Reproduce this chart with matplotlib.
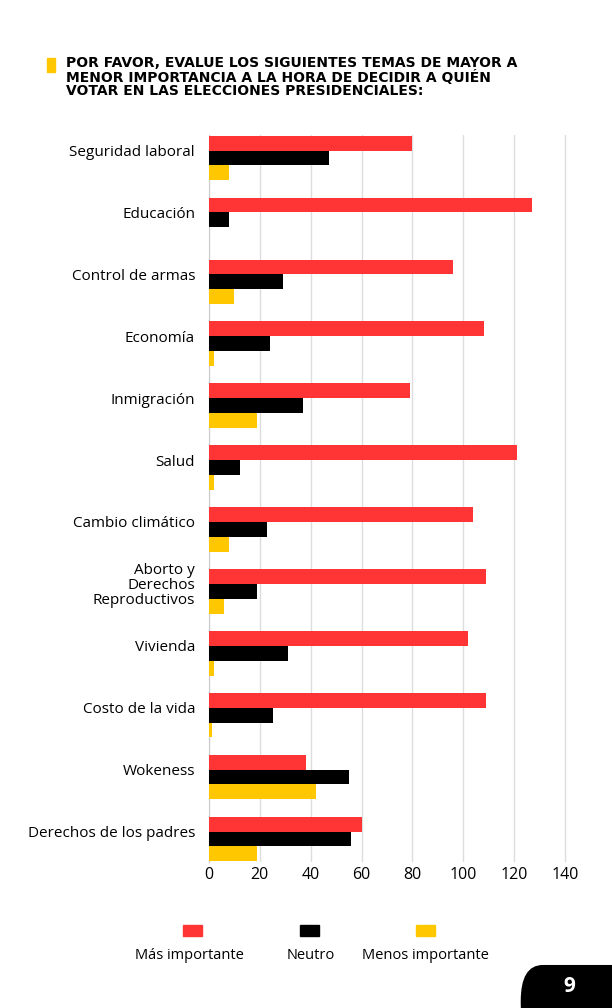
import numpy as np
import matplotlib.pyplot as plt
from matplotlib.patches import Rectangle, FancyBboxPatch

plt.rcParams['font.family'] = ['Open Sans', 'DejaVu Sans']

temas = ['Seguridad laboral', 'Educación', 'Control de armas', 'Economía', 'Inmigración',
         'Salud', 'Cambio climático', 'Aborto y\nDerechos\nReproductivos', 'Vivienda',
         'Costo de la vida', 'Wokeness', 'Derechos de los padres']
mas_importante = [80, 127, 96, 108, 79, 121, 104, 109, 102, 109, 38, 60]
neutro = [47, 8, 29, 24, 37, 12, 23, 19, 31, 25, 55, 56]
menos_importante = [8, 0, 10, 2, 19, 2, 8, 6, 2, 1, 42, 19]
series = ['Más importante', 'Neutro', 'Menos importante']
colores = ['#FF3434', '#000000', '#FFC700']

fig = plt.figure(figsize=(6.12, 10.08), dpi=100)
ax = fig.add_axes([0.3415, 0.145, 0.615, 0.721])

y = np.arange(len(temas))
h = 0.24
for k, vals in enumerate([mas_importante, neutro, menos_importante]):
    ax.barh(y + (k - 1) * h, vals, height=h, color=colores[k], zorder=3)

ax.set_ylim(len(temas) - 1 + 1.5 * h + 0.01, -1.5 * h - 0.01)
ax.set_xlim(0, 148)
ax.set_xticks(range(0, 141, 20))
ax.set_yticks(y - 0.5 * h)
ax.set_yticklabels(temas, fontsize=11, linespacing=1.0)
ax.tick_params(length=0)
ax.tick_params(axis='y', pad=10)
ax.tick_params(axis='x', labelsize=11.5)
ax.grid(axis='x', color='#dddddd', linewidth=1, zorder=0)
for s in ['top', 'right', 'bottom']:
    ax.spines[s].set_visible(False)
ax.spines['left'].set_color('#cccccc')

# titulo
fig.patches.append(Rectangle((0.077, 0.929), 0.013, 0.013, color='#FFC700',
                             transform=fig.transFigure))
fig.text(0.108, 0.944, 'POR FAVOR, EVALUE LOS SIGUIENTES TEMAS DE MAYOR A\n'
         'MENOR IMPORTANCIA A LA HORA DE DECIDIR A QUIÉN\n'
         'VOTAR EN LAS ELECCIONES PRESIDENCIALES:',
         fontsize=10, fontweight='bold', va='top', linespacing=0.95,
         family=['DejaVu Sans'])

# leyenda
for xc, xt, name, c in zip([0.314, 0.505, 0.696], [0.31, 0.508, 0.695], series, colores):
    fig.patches.append(Rectangle((xc - 0.0155, 0.071), 0.031, 0.011, color=c,
                                 transform=fig.transFigure))
    fig.text(xt, 0.052, name, fontsize=10.5, ha='center', va='center')

# numero de pagina
fig.patches.append(FancyBboxPatch((0.852, -0.03), 0.2, 0.072,
                                  boxstyle='round,pad=0,rounding_size=0.035',
                                  color='black', transform=fig.transFigure))
fig.text(0.93, 0.021, '9', color='white', fontsize=15, fontweight='bold',
         ha='center', va='center')

fig.savefig('out.png', dpi=100)
